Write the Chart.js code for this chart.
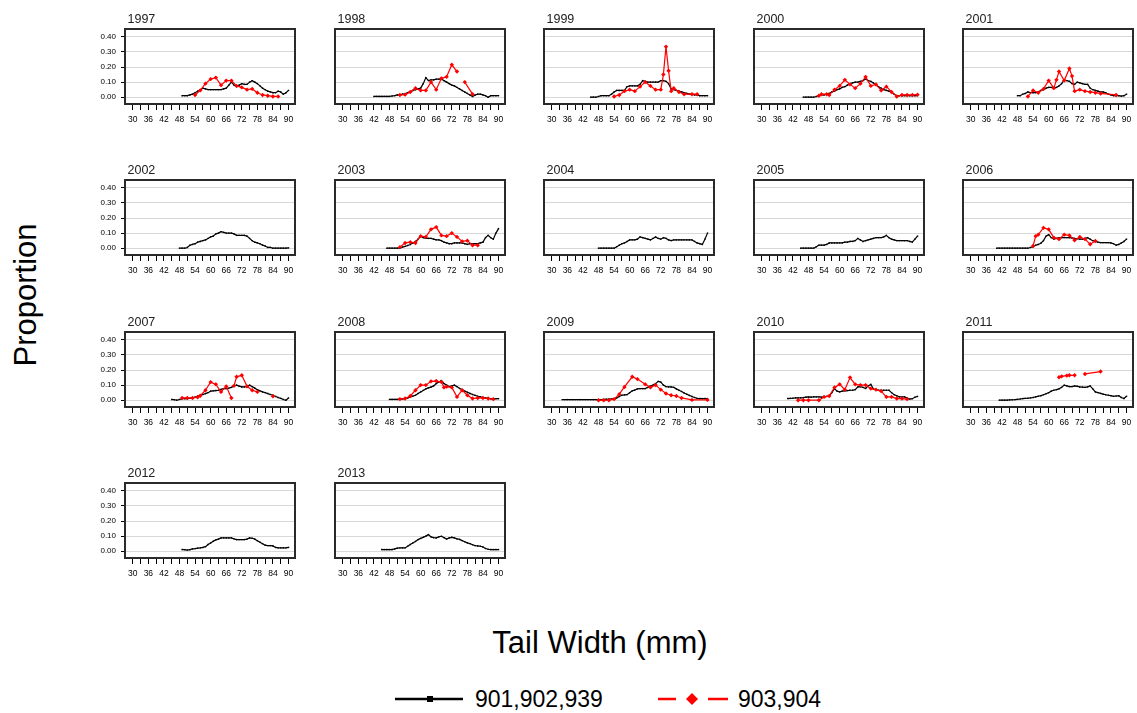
<!DOCTYPE html>
<html><head><meta charset="utf-8">
<script src="https://cdn.jsdelivr.net/npm/chart.js@4.4.1/dist/chart.umd.min.js"></script>
<style>
html,body{margin:0;padding:0;background:#fff;width:1137px;height:713px;overflow:hidden;position:relative;font-family:Arial,"Liberation Sans",sans-serif;}
canvas{position:absolute;}
.t{position:absolute;white-space:nowrap;color:#000;line-height:1;}
</style></head><body>
<div class="t" style="font-size:31px;left:25px;top:295px;transform:translate(-50%,-50%) rotate(-90deg);">Proportion</div>
<div class="t" style="font-size:31px;left:600px;top:642px;transform:translate(-50%,-50%);">Tail Width (mm)</div>
<svg style="position:absolute;left:0;top:680px" width="1137" height="40">
 <line x1="395" y1="19" x2="463" y2="19" stroke="#000" stroke-width="2.5"/>
 <rect x="427" y="16" width="6" height="6" fill="#000"/>
 <line x1="658" y1="19" x2="676" y2="19" stroke="#ff0000" stroke-width="2.5"/>
 <line x1="708" y1="19" x2="728" y2="19" stroke="#ff0000" stroke-width="2.5"/>
 <polygon points="692,13 698,19 692,25 686,19" fill="#ff0000"/>
</svg>
<div class="t" style="font-size:23px;left:475px;top:699px;transform:translateY(-50%)">901,902,939</div>
<div class="t" style="font-size:23px;left:738px;top:699px;transform:translateY(-50%)">903,904</div>
<div id="wrap"></div>
<script>
const years = [1997,1998,1999,2000,2001,2002,2003,2004,2005,2006,2007,2008,2009,2010,2011,2012,2013];
const xTicks = [30,33,36,39,42,45,48,51,54,57,60,63,66,69,72,75,78,81,84,87,90];
const yTicks = [0,0.1,0.2,0.3,0.4];
const seriesNames = ['901,902,939','903,904'];

// first tail width (mm) of each black series; values follow at 1 mm steps
const blackStart = [49,42,45,46,48,48,47,48,45,40,45,48,34,40,41,49,45];

const black1997 = [0.01,0.01,0.01,0.015,0.02,0.03,0.04,0.05,0.06,0.055,0.05,0.05,0.05,0.05,0.05,0.05,0.055,0.06,0.08,0.10,0.08,0.07,0.08,0.09,0.085,0.085,0.10,0.11,0.10,0.09,0.075,0.06,0.05,0.04,0.035,0.03,0.03,0.04,0.035,0.02,0.03,0.045];
const black1998 = [0.005,0.005,0.005,0.005,0.005,0.005,0.005,0.008,0.01,0.015,0.015,0.02,0.022,0.03,0.035,0.045,0.05,0.055,0.06,0.09,0.13,0.11,0.115,0.115,0.12,0.12,0.12,0.11,0.10,0.09,0.08,0.075,0.065,0.055,0.045,0.035,0.025,0.015,0.005,0.015,0.02,0.02,0.015,0.01,0.0,0.01,0.01,0.01,0.01];
const black1999 = [0,0,0,0.005,0.01,0.01,0.01,0.01,0.02,0.035,0.045,0.045,0.045,0.045,0.07,0.075,0.075,0.075,0.075,0.085,0.11,0.105,0.10,0.10,0.10,0.10,0.10,0.11,0.11,0.105,0.09,0.055,0.05,0.045,0.04,0.035,0.03,0.025,0.02,0.02,0.015,0.015,0.01,0.01,0.01,0.01];
const black2000 = [0,0,0,0,0,0.005,0.01,0.015,0.015,0.02,0.025,0.035,0.04,0.05,0.055,0.065,0.07,0.08,0.09,0.095,0.10,0.10,0.105,0.11,0.12,0.11,0.105,0.095,0.08,0.07,0.06,0.05,0.045,0.04,0.035,0.02,0.01,0.01,0.01,0.01,0.01,0.01,0.01,0.01,0.01];
const black2001 = [0.01,0.01,0.02,0.025,0.035,0.03,0.03,0.03,0.035,0.045,0.05,0.06,0.065,0.065,0.06,0.065,0.075,0.09,0.115,0.11,0.105,0.09,0.085,0.10,0.095,0.09,0.085,0.085,0.06,0.05,0.045,0.04,0.035,0.035,0.03,0.02,0.015,0.01,0.01,0.01,0.007,0.01,0.02];
const black2002 = [0,0,0,0.005,0.02,0.025,0.03,0.04,0.045,0.05,0.055,0.065,0.075,0.08,0.095,0.10,0.11,0.105,0.10,0.10,0.10,0.095,0.085,0.085,0.085,0.085,0.08,0.065,0.05,0.04,0.035,0.03,0.02,0.015,0.005,0.005,0,0,0,0,0,0,0.002];
const black2003 = [0,0,0,0,0,0,0.007,0.012,0.018,0.025,0.035,0.045,0.06,0.08,0.07,0.065,0.065,0.065,0.06,0.055,0.055,0.05,0.04,0.035,0.03,0.03,0.035,0.035,0.035,0.035,0.03,0.025,0.03,0.03,0.03,0.03,0.035,0.04,0.07,0.085,0.07,0.06,0.10,0.13];
const black2004 = [0,0,0,0,0,0,0,0.01,0.02,0.03,0.035,0.045,0.055,0.055,0.055,0.06,0.075,0.07,0.065,0.06,0.055,0.065,0.075,0.065,0.06,0.07,0.065,0.055,0.05,0.055,0.055,0.055,0.055,0.055,0.055,0.055,0.055,0.045,0.035,0.03,0.025,0.06,0.10];
const black2005 = [0,0,0,0,0,0,0.01,0.02,0.02,0.02,0.025,0.035,0.035,0.035,0.035,0.035,0.035,0.04,0.04,0.045,0.045,0.05,0.065,0.055,0.045,0.05,0.055,0.06,0.065,0.07,0.07,0.07,0.075,0.085,0.07,0.06,0.055,0.05,0.05,0.05,0.05,0.05,0.045,0.04,0.06,0.08];
const black2006 = [0,0,0,0,0,0,0,0,0,0,0,0,0,0.005,0.01,0.02,0.025,0.033,0.05,0.08,0.09,0.07,0.06,0.065,0.07,0.07,0.07,0.07,0.07,0.068,0.065,0.063,0.06,0.06,0.065,0.07,0.06,0.05,0.045,0.04,0.037,0.037,0.037,0.037,0.035,0.03,0.02,0.025,0.035,0.045,0.06];
const black2007 = [0.005,0.003,0,0.005,0.01,0.01,0.01,0.012,0.015,0.02,0.027,0.033,0.038,0.044,0.05,0.06,0.062,0.064,0.066,0.072,0.077,0.077,0.08,0.085,0.095,0.10,0.093,0.088,0.088,0.09,0.10,0.09,0.08,0.07,0.062,0.055,0.05,0.044,0.038,0.033,0.025,0.018,0.012,0.005,0,0.015];
const black2008 = [0.005,0.005,0.005,0.005,0.007,0.009,0.01,0.015,0.02,0.027,0.033,0.045,0.055,0.065,0.075,0.082,0.087,0.095,0.11,0.12,0.13,0.11,0.10,0.09,0.095,0.10,0.09,0.078,0.07,0.06,0.053,0.045,0.038,0.032,0.026,0.022,0.018,0.015,0.013,0.01,0.01,0.01,0.01];
const black2009 = [0.004,0.004,0.004,0.004,0.004,0.004,0.004,0.004,0.004,0.004,0.004,0.004,0.004,0.004,0.004,0.004,0.005,0.006,0.007,0.008,0.01,0.015,0.025,0.033,0.035,0.037,0.05,0.062,0.068,0.075,0.077,0.077,0.077,0.085,0.095,0.10,0.11,0.125,0.12,0.10,0.09,0.088,0.088,0.085,0.075,0.066,0.058,0.048,0.04,0.032,0.025,0.018,0.012,0.011,0.011,0.011,0.011];
const black2010 = [0.011,0.012,0.013,0.015,0.015,0.016,0.017,0.02,0.022,0.02,0.022,0.022,0.022,0.02,0.022,0.025,0.028,0.05,0.077,0.06,0.055,0.06,0.062,0.064,0.066,0.066,0.07,0.088,0.09,0.085,0.078,0.095,0.105,0.075,0.068,0.066,0.066,0.066,0.066,0.066,0.05,0.037,0.03,0.022,0.022,0.022,0.015,0.007,0.01,0.02,0.025];
const black2011 = [0,0,0,0,0.002,0.003,0.004,0.006,0.008,0.011,0.012,0.013,0.015,0.018,0.022,0.026,0.03,0.036,0.043,0.05,0.06,0.066,0.07,0.075,0.085,0.10,0.095,0.09,0.09,0.095,0.092,0.088,0.087,0.085,0.088,0.095,0.075,0.055,0.05,0.045,0.04,0.036,0.033,0.03,0.026,0.028,0.03,0.018,0.011,0.026];
const black2012 = [0.011,0.01,0.007,0.01,0.015,0.017,0.02,0.022,0.025,0.03,0.044,0.055,0.066,0.075,0.08,0.088,0.088,0.088,0.088,0.088,0.082,0.077,0.077,0.077,0.077,0.08,0.088,0.086,0.08,0.07,0.06,0.05,0.04,0.037,0.037,0.035,0.025,0.022,0.022,0.022,0.022,0.025];
const black2013 = [0.011,0.011,0.011,0.011,0.011,0.015,0.02,0.022,0.022,0.022,0.033,0.045,0.055,0.065,0.077,0.085,0.092,0.10,0.11,0.095,0.09,0.088,0.095,0.099,0.09,0.081,0.088,0.092,0.088,0.082,0.078,0.07,0.063,0.055,0.05,0.043,0.037,0.035,0.033,0.028,0.018,0.013,0.011,0.011,0.011,0.011];

const red1997X = [54,56,58,60,62,64,66,68,70,72,74,76,78,80,82,84,86];
const red1997Y = [0.015,0.045,0.09,0.12,0.13,0.08,0.11,0.11,0.075,0.065,0.05,0.055,0.03,0.015,0.01,0.005,0.005];
const red1998X = [52,54,56,58,60,62,64,66,68,70,72,74,75,77,80];
const red1998Y = [0.015,0.017,0.035,0.06,0.045,0.045,0.10,0.05,0.125,0.135,0.215,0.17,null,0.10,0.02];
const red1999X = [54,56,58,60,62,64,66,68,70,72,73,74,75,76,77,79,81,84,86];
const red1999Y = [0.005,0.015,0.04,0.05,0.04,0.07,0.10,0.075,0.05,0.05,0.15,0.335,0.175,0.04,0.06,0.035,0.02,0.02,0.02];
const red2000X = [52,53,55,56,58,60,62,64,66,68,70,72,74,76,78,80,82,84,86,88,90];
const red2000Y = [0.01,0.02,0.02,0.015,0.05,0.075,0.115,0.085,0.06,0.09,0.135,0.075,0.085,0.045,0.07,0.035,0.005,0.015,0.015,0.015,0.017];
const red2001X = [52,54,56,58,60,62,63,64,66,68,69,70,72,74,76,78,80,86];
const red2001Y = [0.005,0.045,0.03,0.055,0.11,0.06,0.115,0.17,0.11,0.19,0.14,0.04,0.05,0.04,0.035,0.03,0.025,0.015];
const red2002X = [], red2002Y = [];
const red2003X = [52,54,56,58,60,62,64,66,68,70,72,74,76,78,80,82];
const red2003Y = [0.007,0.035,0.04,0.035,0.08,0.075,0.125,0.14,0.085,0.08,0.10,0.075,0.045,0.05,0.02,0.02];
const red2004X = [], red2004Y = [];
const red2005X = [], red2005Y = [];
const red2006X = [54,55,56,58,60,62,64,66,68,70,72,74,76,78];
const red2006Y = [0.015,0.08,0.09,0.135,0.125,0.07,0.06,0.09,0.085,0.053,0.075,0.06,0.026,0.048];
const red2007X = [49,51,53,55,56,58,60,62,64,66,68,68.5,69,70,72,74,76,78,81,84];
const red2007Y = [0.015,0.015,0.015,0.02,0.03,0.066,0.12,0.105,0.055,0.092,0.015,null,0.095,0.155,0.165,0.092,0.066,0.055,null,0.026];
const red2008X = [52,54,56,58,60,62,64,66,68,69,70,72,74,76,78,80,82,84,86,88];
const red2008Y = [0.007,0.011,0.028,0.066,0.10,0.10,0.125,0.127,0.12,0.085,0.09,0.085,0.022,0.066,0.033,0.011,0.015,0.015,0.011,0.007];
const red2009X = [48,50,52,54,56,58,61,63,66,68,70,72,74,76,78,80,84,90];
const red2009Y = [0,0,0,0.007,0.04,0.088,0.155,0.14,0.105,0.085,0.10,0.07,0.044,0.033,0.028,0.015,0.002,0.002];
const red2010X = [44,46,48,52,54,56,58,60,62,64,66,68,70,72,74,76,78,80,82,84,86];
const red2010Y = [0,0,0,0,0.022,0.028,0.085,0.105,0.07,0.15,0.105,0.10,0.10,0.077,0.07,0.06,0.022,0.022,0.011,0.011,0.007];
const red2011X = [64,65,67,68,70,72,74,80];
const red2011Y = [0.152,0.158,0.163,0.165,0.165,null,0.174,0.19];
const red2012X = [], red2012Y = [];
const red2013X = [], red2013Y = [];

const blackSeries = [black1997,black1998,black1999,black2000,black2001,black2002,black2003,black2004,black2005,black2006,black2007,black2008,black2009,black2010,black2011,black2012,black2013];
const redXs = [red1997X,red1998X,red1999X,red2000X,red2001X,red2002X,red2003X,red2004X,red2005X,red2006X,red2007X,red2008X,red2009X,red2010X,red2011X,red2012X,red2013X];
const redYs = [red1997Y,red1998Y,red1999Y,red2000Y,red2001Y,red2002Y,red2003Y,red2004Y,red2005Y,red2006Y,red2007Y,red2008Y,red2009Y,red2010Y,red2011Y,red2012Y,red2013Y];

Chart.defaults.font.family = 'Arial, "Liberation Sans", sans-serif';
Chart.defaults.color = '#000';

const framePlugin = {
  id: 'frame',
  afterDraw(chart, args, opts) {
    const ctx = chart.ctx, a = chart.chartArea;
    ctx.save();
    ctx.strokeStyle = '#2a2a2a';
    ctx.lineWidth = 2;
    ctx.strokeRect(a.left, a.top, a.right - a.left, a.bottom - a.top);
    ctx.fillStyle = '#222';
    ctx.font = '12.5px Arial, "Liberation Sans", sans-serif';
    ctx.textBaseline = 'alphabetic';
    ctx.textAlign = 'left';
    ctx.fillText(opts.text, a.left + 2.5, a.top - 6.5);
    ctx.restore();
  }
};

const wrap = document.getElementById('wrap');
const PADL = 36, PADT = 24, BOXW = 170, BOXH = 75, XH = 28;
const CW = PADL + BOXW + 4, CH = PADT + BOXH + XH;
years.forEach((year, i) => {
  const col = i % 5, row = Math.floor(i / 5);
  const boxLeft = 125 + col * 209.6;
  const boxTop = 28.5 + row * 151.6;
  const cv = document.createElement('canvas');
  cv.width = CW; cv.height = CH;
  cv.style.left = Math.round(boxLeft - PADL) + 'px';
  cv.style.top = Math.round(boxTop - PADT) + 'px';
  cv.style.width = CW + 'px'; cv.style.height = CH + 'px';
  wrap.appendChild(cv);
  const first = col === 0;
  const blk = blackSeries[i].map((v, k) => ({x: blackStart[i] + k, y: v}));
  const red = redXs[i].map((x, k) => ({x: x, y: redYs[i][k]}));
  new Chart(cv, {
    type: 'line',
    data: {datasets: [
      {label: seriesNames[1], data: red, borderColor: '#ff0000', backgroundColor: '#ff0000', borderWidth: 1.2,
       pointStyle: 'rectRot', pointRadius: 2.2, pointBorderWidth: 0, spanGaps: false, order: 0},
      {label: seriesNames[0], data: blk, borderColor: '#000', backgroundColor: '#000', borderWidth: 1.2,
       pointStyle: 'rect', pointRadius: 1, pointBorderWidth: 0, spanGaps: false, order: 1}
    ]},
    options: {
      responsive: false, animation: false, devicePixelRatio: 1,
      layout: {padding: {top: PADT, right: 4, left: 0, bottom: 0}},
      plugins: {legend: {display: false}, tooltip: {enabled: false}, frame: {text: String(year)}},
      scales: {
        x: {type: 'linear', min: 27, max: 92.5,
          afterBuildTicks: s => { s.ticks = xTicks.map(v => ({value: v})); },
          afterFit: s => { s.height = XH; },
          grid: {drawOnChartArea: false, drawTicks: true, tickLength: 6, tickColor: '#000', tickWidth: 1},
          border: {display: false},
          ticks: {autoSkip: false, maxRotation: 0, minRotation: 0, padding: 5, font: {size: 8.5}, color: '#000',
                  callback: v => (v % 6 === 0 ? String(v) : '')}
        },
        y: {type: 'linear', min: -0.045, max: 0.452,
          afterBuildTicks: s => { s.ticks = yTicks.map(v => ({value: v})); },
          afterFit: s => { s.width = PADL; },
          grid: {color: '#d8d8d8', lineWidth: 1, drawTicks: first, tickLength: 4, tickColor: '#000'},
          border: {display: false},
          ticks: {display: first, padding: 5, font: {size: 8}, color: '#000', callback: v => Number(v).toFixed(2)}
        }
      }
    },
    plugins: [framePlugin]
  });
});
</script>
</body></html>
